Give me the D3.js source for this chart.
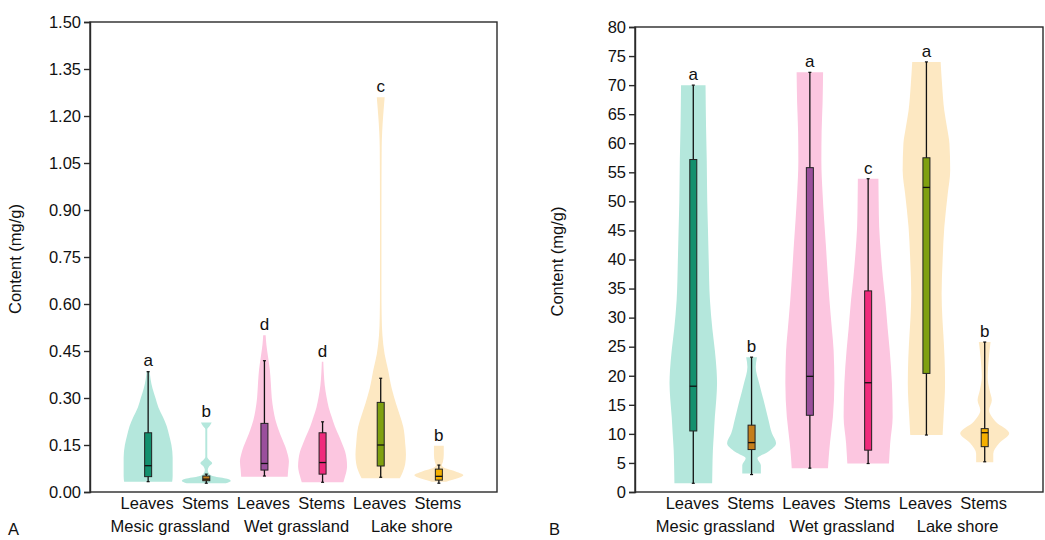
<!DOCTYPE html>
<html>
<head>
<meta charset="utf-8">
<script src="https://cdn.jsdelivr.net/npm/d3@7"></script>
<style>
  html, body { margin: 0; padding: 0; background: #fff; }
  svg { display: block; }
</style>
</head>
<body>
<div id="chart"></div>
<script>
// ---- data ----
const habitats = ['Mesic grassland', 'Wet grassland', 'Lake shore'];
const organs = ['Leaves', 'Stems'];

// violin profiles: [value, relative half-width]
const violinA = [
  [[0.033, 0.98], [0.05, 1.0], [0.08, 1.0], [0.11, 1.0], [0.15, 0.95], [0.18, 0.86], [0.21, 0.76], [0.24, 0.6], [0.27, 0.42], [0.30, 0.3], [0.33, 0.18], [0.36, 0.1], [0.385, 0.06]],
  [[0.028, 0.8], [0.035, 1.0], [0.042, 0.85], [0.05, 0.3], [0.058, 0.12], [0.07, 0.06], [0.082, 0.12], [0.092, 0.24], [0.102, 0.12], [0.112, 0.04], [0.2, 0.04], [0.212, 0.15], [0.222, 0.22]],
  [[0.049, 0.95], [0.07, 0.97], [0.097, 1.0], [0.12, 0.95], [0.145, 0.85], [0.17, 0.72], [0.198, 0.58], [0.23, 0.45], [0.26, 0.37], [0.30, 0.3], [0.35, 0.26], [0.39, 0.22], [0.43, 0.15], [0.47, 0.08], [0.50, 0.05]],
  [[0.031, 0.85], [0.05, 0.92], [0.065, 0.97], [0.081, 1.0], [0.105, 0.98], [0.129, 0.92], [0.15, 0.82], [0.177, 0.68], [0.21, 0.5], [0.24, 0.37], [0.27, 0.25], [0.304, 0.16], [0.34, 0.09], [0.38, 0.05], [0.416, 0.03]],
  [[0.044, 0.78], [0.06, 0.88], [0.09, 1.0], [0.12, 1.03], [0.155, 1.0], [0.208, 0.92], [0.245, 0.78], [0.283, 0.62], [0.33, 0.45], [0.39, 0.3], [0.44, 0.16], [0.5, 0.07], [0.56, 0.04], [0.65, 0.03], [0.9, 0.03], [1.1, 0.04], [1.15, 0.06], [1.2, 0.1], [1.24, 0.14], [1.26, 0.16]],
  [[0.033, 0.3], [0.04, 0.6], [0.046, 0.85], [0.054, 1.0], [0.062, 0.8], [0.07, 0.5], [0.078, 0.2], [0.085, 0.12], [0.095, 0.16], [0.12, 0.2], [0.14, 0.2], [0.148, 0.2]]
];
const violinB = [
  [[1.5, 0.77], [4, 0.78], [7.2, 0.8], [10, 0.84], [12.9, 0.88], [16, 0.94], [18.7, 0.97], [21, 0.95], [24.4, 0.88], [28, 0.78], [33, 0.68], [39.8, 0.63], [45, 0.6], [50, 0.57], [57, 0.55], [63, 0.52], [70, 0.5]],
  [[3.2, 0.38], [4.6, 0.38], [5.8, 0.24], [6.9, 0.66], [8.4, 1.0], [10.1, 0.83], [12.4, 0.69], [15.3, 0.52], [18.7, 0.31], [21.5, 0.17], [23.2, 0.22]],
  [[4.1, 0.74], [6, 0.77], [8.4, 0.82], [12.9, 0.94], [18.7, 1.0], [24.4, 0.97], [28, 0.9], [33, 0.8], [38, 0.72], [42.7, 0.65], [47, 0.58], [51.3, 0.52], [57, 0.47], [62, 0.48], [67, 0.52], [72.2, 0.54]],
  [[4.9, 0.85], [8.4, 0.9], [12.9, 1.0], [18.7, 0.97], [24.4, 0.88], [28, 0.8], [33, 0.7], [37, 0.6], [41, 0.52], [45.6, 0.45], [50, 0.43], [53.9, 0.42]],
  [[9.8, 0.66], [12.9, 0.7], [18.7, 0.76], [23, 0.74], [27.2, 0.69], [30, 0.65], [34.1, 0.62], [39.8, 0.66], [45.6, 0.73], [51.3, 0.87], [55.3, 0.97], [59.9, 0.94], [62.5, 0.85], [65.6, 0.73], [70, 0.64], [74, 0.58]],
  [[5.1, 0.35], [6.6, 0.35], [8.4, 0.59], [10.1, 1.0], [12.1, 0.45], [14.1, 0.18], [15.8, 0.29], [17.5, 0.2], [19.8, 0.12], [23.2, 0.17], [25.8, 0.24]]
];

// box stats: [whisker low, q1, median, q3, whisker high]
const boxA = [
  [0.033, 0.049, 0.084, 0.189, 0.384],
  [0.028, 0.036, 0.041, 0.051, 0.057],
  [0.051, 0.070, 0.091, 0.219, 0.419],
  [0.031, 0.057, 0.094, 0.189, 0.224],
  [0.047, 0.083, 0.150, 0.286, 0.363],
  [0.028, 0.038, 0.050, 0.073, 0.086]
];
const boxB = [
  [1.5, 10.5, 18.2, 57.2, 70.0],
  [3.0, 7.3, 8.5, 11.5, 23.2],
  [4.1, 13.2, 19.9, 55.8, 72.2],
  [4.9, 7.2, 18.8, 34.6, 53.9],
  [9.8, 20.4, 52.4, 57.5, 74.0],
  [5.2, 7.8, 10.2, 10.9, 25.8]
];

const lettersA = ['a', 'b', 'd', 'd', 'c', 'b'];
const lettersB = ['a', 'b', 'a', 'c', 'a', 'b'];

const ticksA = d3.range(0, 1.5001, 0.15);
const ticksB = d3.range(0, 80.001, 5);

// ---- styling ----
const violinColors = ['#b4e7dc', '#fcc6e0', '#fde8c2'];
const boxColors = ['#14906e', '#c47e1c', '#9a4f9c', '#ef2a7c', '#7fa010', '#f5b000'];
const FONT = "'Liberation Sans', Arial, Helvetica, sans-serif";
const AXIS = '#2a2a2a';
const FS = 16.5;

const width = 1045, height = 540;
const svg = d3.select('#chart').append('svg').attr('width', width).attr('height', height);

const keys = habitats.flatMap(h => organs.map(o => `${h}|${o}`));

function drawPanel(cfg) {
  const { left, right, top, bottom, domain, ticks, fmt, violins, boxes, letters, tag, tagX, titleX } = cfg;
  const g = svg.append('g');

  const x = d3.scalePoint().domain(keys).range([left, right]).padding(1);
  const y = d3.scaleLinear().domain(domain).range([bottom, top]);
  const halfW = d3.scaleLinear().domain([0, 1]).range([0, 24.5]);

  // violins
  violins.forEach((prof, i) => {
    const cx = x(keys[i]);
    const area = d3.area()
      .y(d => y(d[0]))
      .x0(d => cx - Math.max(halfW(d[1]), 0.6))
      .x1(d => cx + Math.max(halfW(d[1]), 0.6))
      .curve(d3.curveMonotoneY);
    g.append('path').attr('d', area(prof))
      .attr('fill', violinColors[Math.floor(i / 2)]);
  });

  // boxes
  const bw = 7;
  boxes.forEach((b, i) => {
    const cx = x(keys[i]);
    const [lo, q1, md, q3, hi] = b;
    g.append('line').attr('x1', cx).attr('x2', cx).attr('y1', y(lo)).attr('y2', y(hi))
      .attr('stroke', '#111').attr('stroke-width', 1.3);
    [lo, hi].forEach(v => g.append('line')
      .attr('x1', cx - 1.5).attr('x2', cx + 1.5).attr('y1', y(v)).attr('y2', y(v))
      .attr('stroke', '#111').attr('stroke-width', 1.2));
    g.append('rect').attr('x', cx - bw / 2).attr('y', y(q3))
      .attr('width', bw).attr('height', Math.max(y(q1) - y(q3), 1))
      .attr('fill', boxColors[i]).attr('stroke', '#222').attr('stroke-width', 1);
    g.append('line').attr('x1', cx - bw / 2).attr('x2', cx + bw / 2).attr('y1', y(md)).attr('y2', y(md))
      .attr('stroke', '#111').attr('stroke-width', 1.3);
  });

  // significance letters
  letters.forEach((l, i) => {
    const topV = Math.max(d3.max(violins[i], d => d[0]), boxes[i][4]);
    g.append('text').attr('x', x(keys[i])).attr('y', y(topV) - 5)
      .attr('text-anchor', 'middle').attr('font-family', FONT).attr('font-size', 17)
      .attr('fill', '#111').text(l);
  });

  // frame
  g.append('rect').attr('x', left).attr('y', top)
    .attr('width', right - left).attr('height', bottom - top)
    .attr('fill', 'none').attr('stroke', AXIS).attr('stroke-width', 1.4);

  // y axis
  const yAxis = d3.axisLeft(y).tickValues(ticks).tickFormat(fmt).tickSize(6).tickPadding(3);
  const ya = g.append('g').attr('transform', `translate(${left},0)`).call(yAxis);
  ya.select('.domain').attr('stroke', AXIS).attr('stroke-width', 1.4);
  ya.selectAll('.tick line').attr('stroke', AXIS).attr('stroke-width', 1.4);
  ya.selectAll('.tick text').attr('font-family', FONT).attr('font-size', FS).attr('fill', '#111');

  // category labels
  keys.forEach(k => {
    g.append('text').attr('x', x(k) - 1).attr('y', 509).attr('text-anchor', 'middle')
      .attr('font-family', FONT).attr('font-size', FS).attr('fill', '#111').text(k.split('|')[1]);
  });
  const shift = [-7, 3, 2];
  habitats.forEach((h, j) => {
    const mid = (x(`${h}|Leaves`) + x(`${h}|Stems`)) / 2 + shift[j];
    g.append('text').attr('x', mid).attr('y', 532).attr('text-anchor', 'middle')
      .attr('font-family', FONT).attr('font-size', FS).attr('fill', '#111').text(h);
  });

  // y title
  g.append('text')
    .attr('transform', `translate(${titleX},${(top + bottom) / 2 + 2}) rotate(-90)`)
    .attr('text-anchor', 'middle').attr('font-family', FONT).attr('font-size', FS)
    .attr('fill', '#111').text('Content (mg/g)');

  // panel tag
  g.append('text').attr('x', tagX).attr('y', 535).attr('font-family', FONT)
    .attr('font-size', FS).attr('fill', '#111').text(tag);
}

drawPanel({
  left: 90, right: 497, top: 22, bottom: 492,
  domain: [0, 1.5], ticks: ticksA, fmt: d3.format('.2f'),
  violins: violinA, boxes: boxA, letters: lettersA, tag: 'A', tagX: 8, titleX: 21
});
drawPanel({
  left: 635, right: 1043, top: 27, bottom: 492,
  domain: [0, 80], ticks: ticksB, fmt: d3.format('d'),
  violins: violinB, boxes: boxB, letters: lettersB, tag: 'B', tagX: 549, titleX: 563
});
</script>
</body>
</html>
